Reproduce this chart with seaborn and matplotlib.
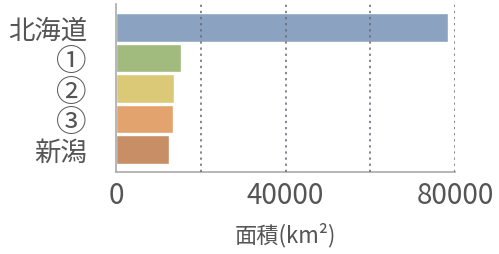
import matplotlib
matplotlib.use("Agg")
import matplotlib.pyplot as plt
import seaborn as sns
import pandas as pd

# areas in km2
prefs = ["北海道", "①", "②", "③", "新潟"]
areas = [78421, 15275, 13784, 13562, 12584]
colors = ["#8ba3c1", "#a1ba7d", "#dbc978", "#e3a36e", "#c88e66"]
xticks = [0, 40000, 80000]
grid_x = [20000, 40000, 60000, 80000]

sns.set_theme(style="white")
plt.rcParams['font.family'] = ['Noto Sans CJK JP', 'DejaVu Sans']
text_color = "#555555"

df = pd.DataFrame({"pref": prefs, "area": areas})

fig = plt.figure(figsize=(4.99, 2.55), dpi=100)
ax = fig.add_axes([0.2325, 0.3216, 0.912 - 0.2325, 0.980 - 0.3216])

sns.barplot(data=df, x="area", y="pref", hue="pref", palette=colors,
            saturation=1, orient="h", width=0.93, legend=False, ax=ax, zorder=2)

for gx in grid_x:
    ax.axvline(gx, color="#666677", linestyle=(0, (1.5, 2.5)), linewidth=1.1, zorder=3)

ax.set_xlim(0, 80000)
ax.set_ylim(4.74, -0.77)
ax.set_xticks(xticks)
ax.set_xticklabels([str(t) for t in xticks])
ax.tick_params(axis="x", length=0, pad=6, labelsize=20, labelcolor=text_color)
ax.tick_params(axis="y", length=0, pad=21, labelsize=19, labelcolor=text_color)
# circled numbers render a bit small, bump them up
for lab in ax.get_yticklabels():
    if lab.get_text() in ["①", "②", "③"]:
        lab.set_fontsize(22)
ax.set_ylabel("")
ax.set_xlabel("面積(km²)", fontsize=16, color=text_color, labelpad=8)

for side in ["top", "right"]:
    ax.spines[side].set_visible(False)
for side in ["left", "bottom"]:
    ax.spines[side].set_color("#aaaaaa")
    ax.spines[side].set_linewidth(1.2)

fig.savefig("out.png", dpi=100)
